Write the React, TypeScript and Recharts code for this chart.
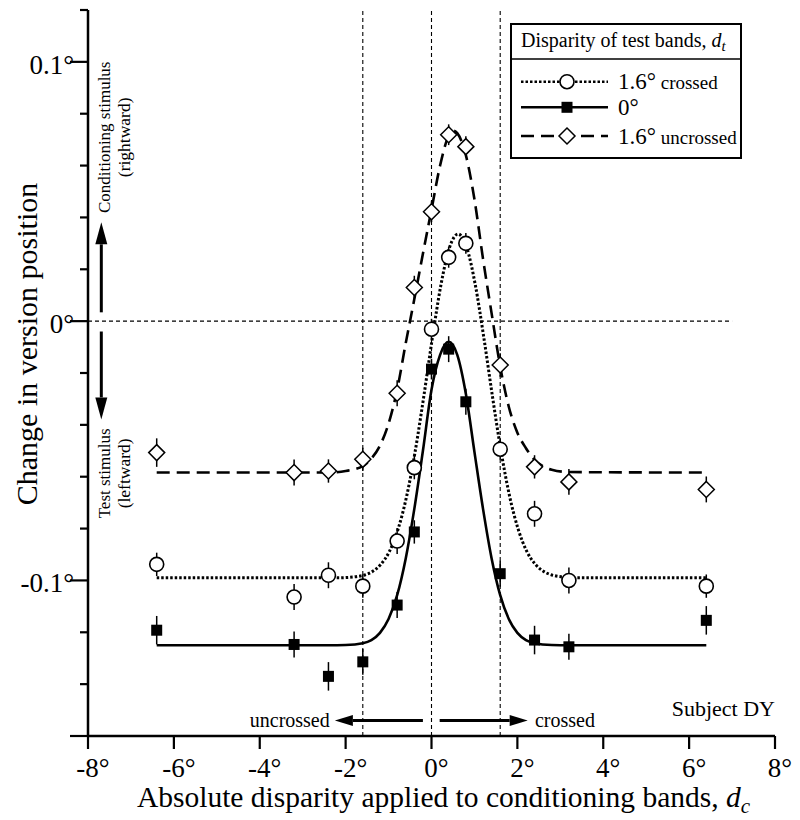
import React from 'react';
import {
  ComposedChart, Line, Scatter, XAxis, YAxis, ReferenceLine, ReferenceDot,
  ErrorBar, Legend, Label,
} from 'recharts';

const FONT = '"Liberation Serif", "Times New Roman", serif';

// ---------- data ----------
const xTicks = [-8, -6, -4, -2, 0, 2, 4, 6, 8];
const yTicks = [-0.16, -0.14, -0.12, -0.1, -0.08, -0.06, -0.04, -0.02, 0, 0.02, 0.04, 0.06, 0.08, 0.1, 0.12];
const yTickLabels = ['0.1°', '0°', '-0.1°'];
const yLabeledValues = [0.1, 0, -0.1];

const disparities = [-6.4, -3.2, -2.4, -1.6, -0.8, -0.4, 0, 0.4, 0.8, 1.6, 2.4, 3.2, 6.4];

const crossedVals = [-0.0938, -0.1064, -0.098, -0.1022, -0.0848, -0.0565, -0.0031, 0.0246, 0.03, -0.0494, -0.0743, -0.1, -0.1022];
const crossedErr = [0.0045, 0.005, 0.005, 0.0045, 0.005, 0.0045, 0.004, 0.004, 0.004, 0.004, 0.005, 0.005, 0.0045];

const zeroVals = [-0.1192, -0.1247, -0.137, -0.1314, -0.1095, -0.0813, -0.0185, -0.0108, -0.0311, -0.0974, -0.123, -0.1256, -0.1154];
const zeroErr = [0.0055, 0.005, 0.0055, 0.005, 0.005, 0.0045, 0.004, 0.005, 0.005, 0.005, 0.0055, 0.005, 0.0055];

const uncrossedVals = [-0.0507, -0.0584, -0.0578, -0.0533, -0.0278, 0.013, 0.0422, 0.0719, 0.0673, -0.0169, -0.0562, -0.062, -0.0649];
const uncrossedErr = [0.0055, 0.005, 0.0045, 0.0045, 0.005, 0.0045, 0.004, 0.004, 0.004, 0.0045, 0.0045, 0.005, 0.005];

// fitted curves
const crossedFitX = [-6.4, -2.2, -1.78, -1.38, -1.18, -0.98, -0.78, -0.58, -0.38, -0.18, 0.02, 0.22, 0.42, 0.62, 0.82, 1.02, 1.22, 1.42, 1.62, 1.82, 2.02, 2.22, 2.42, 2.62, 3.02, 3.4, 6.4];
const crossedFitY = [-0.099, -0.099, -0.0986, -0.0966, -0.0938, -0.0888, -0.0803, -0.0676, -0.0502, -0.0291, -0.0065, 0.014, 0.0284, 0.0336, 0.0284, 0.014, -0.0065, -0.0291, -0.0502, -0.0676, -0.0803, -0.0888, -0.0938, -0.0966, -0.0986, -0.099, -0.099];

const zeroFitX = [-6.4, -2.4, -2.0, -1.6, -1.4, -1.2, -1.0, -0.8, -0.6, -0.4, -0.2, 0, 0.2, 0.4, 0.6, 0.8, 1.0, 1.2, 1.4, 1.6, 1.8, 2.0, 2.2, 2.4, 2.8, 3.2, 6.4];
const zeroFitY = [-0.125, -0.125, -0.1249, -0.1242, -0.123, -0.1202, -0.1149, -0.1057, -0.0915, -0.0724, -0.05, -0.0265, -0.013, -0.008, -0.013, -0.028, -0.0504, -0.0724, -0.0915, -0.1057, -0.1149, -0.1202, -0.123, -0.1242, -0.1249, -0.125, -0.125];

const uncrossedFitX = [-6.4, -2.4, -2.0, -1.6, -1.4, -1.2, -1.0, -0.8, -0.6, -0.4, -0.2, 0, 0.2, 0.4, 0.5, 0.6, 0.8, 1.0, 1.2, 1.4, 1.6, 1.8, 2.0, 2.2, 2.4, 2.6, 2.8, 3.2, 6.4];
const uncrossedFitY = [-0.0584, -0.0584, -0.0578, -0.0559, -0.053, -0.048, -0.0395, -0.0265, -0.0085, 0.0085, 0.026, 0.043, 0.06, 0.0715, 0.0735, 0.0725, 0.064, 0.047, 0.024, 0.003, -0.0175, -0.033, -0.043, -0.049, -0.0535, -0.056, -0.0573, -0.0582, -0.0584];

const guideXs = [-1.6, 0, 1.6];

const toPoints = (xs: number[], ys: number[], es?: number[]) =>
  xs.map((x, i) => (es ? { x, y: ys[i], err: es[i] } : { x, y: ys[i] }));

const crossedPts = toPoints(disparities, crossedVals, crossedErr);
const zeroPts = toPoints(disparities, zeroVals, zeroErr);
const uncrossedPts = toPoints(disparities, uncrossedVals, uncrossedErr);
const crossedFit = toPoints(crossedFitX, crossedFitY);
const zeroFit = toPoints(zeroFitX, zeroFitY);
const uncrossedFit = toPoints(uncrossedFitX, uncrossedFitY);

// ---------- marks ----------
const CircleMark = (p: any) => (
  <circle cx={p.cx} cy={p.cy} r={7} fill="#fff" stroke="#000" strokeWidth={1.6} />
);
const SquareMark = (p: any) => (
  <rect x={p.cx - 5.5} y={p.cy - 5.5} width={11} height={11} fill="#000" />
);
const DiamondMark = (p: any) => (
  <polygon
    points={`${p.cx},${p.cy - 8} ${p.cx + 8},${p.cy} ${p.cx},${p.cy + 8} ${p.cx - 8},${p.cy}`}
    fill="#fff" stroke="#000" strokeWidth={1.5}
  />
);

const DOTTED = '2.5 2';
const DASHED = '13 7';

const legendItems = [
  { num: '1.6°', word: 'crossed', dash: DOTTED, width: 2.6, mark: 'circle' },
  { num: '0°', word: '', dash: undefined, width: 2.6, mark: 'square' },
  { num: '1.6°', word: 'uncrossed', dash: DASHED, width: 2.4, mark: 'diamond' },
];
const legendRowY = [58.7, 84.3, 113];

const LegendBox = () => (
  <svg width={232} height={136} style={{ display: 'block' }}>
    <rect x={1} y={1} width={230} height={134} fill="#fff" stroke="#000" strokeWidth={2} />
    <text x={11} y={24} fontSize={20} fontFamily={FONT}>
      Disparity of test bands, <tspan fontStyle="italic">d</tspan>
      <tspan fontStyle="italic" fontSize={15} dy={4}>t</tspan>
    </text>
    <line x1={1} x2={231} y1={36} y2={36} stroke="#000" strokeWidth={1.6} />
    {legendItems.map((it, i) => {
      const cy = legendRowY[i];
      const cx = 57;
      return (
        <g key={i}>
          <line x1={11} x2={98} y1={cy} y2={cy} stroke="#000" strokeWidth={it.width} strokeDasharray={it.dash} />
          {it.mark === 'circle' && CircleMark({ cx, cy })}
          {it.mark === 'square' && SquareMark({ cx, cy })}
          {it.mark === 'diamond' && DiamondMark({ cx, cy })}
          <text x={108} y={cy + 7.5} fontFamily={FONT}>
            <tspan fontSize={23}>{it.num}</tspan>
            {it.word ? <tspan fontSize={19}>{' ' + it.word}</tspan> : null}
          </text>
        </g>
      );
    })}
  </svg>
);

// ---------- axes ----------
const YTick = (props: any) => {
  const { x, y, payload } = props;
  const v = Math.round(payload.value * 100) / 100;
  const idx = yLabeledValues.indexOf(v);
  const major = idx >= 0 || v === -0.16;
  return (
    <g>
      <line x1={x - (major ? 18 : 8)} x2={x} y1={y} y2={y} stroke="#000" strokeWidth={2.2} />
      {idx >= 0 && (
        <text x={x - 14} y={y + 12} textAnchor="end" fontSize={27} fontFamily={FONT} fill="#000">
          {yTickLabels[idx]}
        </text>
      )}
    </g>
  );
};

const XTick = (props: any) => {
  const { x, y, payload } = props;
  return (
    <text x={x + 5} y={y + 28} textAnchor="middle" fontSize={27} fontFamily={FONT} fill="#000">
      {`${payload.value}°`}
    </text>
  );
};

const XTitle = (props: any) => {
  const vb = props.viewBox;
  return (
    <text x={vb.x + vb.width / 2 + 12} y={vb.y + 71} textAnchor="middle" fontSize={29.5} fontFamily={FONT} fill="#000">
      Absolute disparity applied to conditioning bands, <tspan fontStyle="italic">d</tspan>
      <tspan fontStyle="italic" fontSize={21} dy={6}>c</tspan>
    </text>
  );
};

const YTitle = (props: any) => {
  const vb = props.viewBox;
  const cx = 37;
  const cy = vb.y + vb.height / 2 - 29;
  return (
    <text x={cx} y={cy} transform={`rotate(-90 ${cx} ${cy})`} textAnchor="middle" fontSize={30} fontFamily={FONT} fill="#000">
      Change in version position
    </text>
  );
};

// ---------- annotations ----------
const makeArrow = (headLen: number, headW: number) => (p: any) => {
  const { x1, y1, x2, y2 } = p;
  const dx = x2 - x1, dy = y2 - y1;
  const len = Math.hypot(dx, dy) || 1;
  const ux = dx / len, uy = dy / len;
  const bx = x2 - ux * headLen, by = y2 - uy * headLen;
  return (
    <g>
      <line x1={x1} y1={y1} x2={bx} y2={by} stroke="#000" strokeWidth={3} />
      <polygon points={`${x2},${y2} ${bx - uy * headW},${by + ux * headW} ${bx + uy * headW},${by - ux * headW}`} fill="#000" />
    </g>
  );
};
const vArrow = makeArrow(22, 6);
const hArrow = makeArrow(18, 5.5);

const rotLabel = (l1: string, l2: string) => (p: any) => (
  <g transform={`rotate(-90 ${p.cx} ${p.cy})`} fontFamily={FONT} fill="#000">
    <text x={p.cx} y={p.cy - 5} textAnchor="middle" fontSize={17}>{l1}</text>
    <text x={p.cx} y={p.cy + 15} textAnchor="middle" fontSize={17.5}>{l2}</text>
  </g>
);
const plainLabel = (s: string, anchor: string, size: number) => (p: any) => (
  <text x={p.cx} y={p.cy} textAnchor={anchor} fontSize={size} fontFamily={FONT} fill="#000">{s}</text>
);

export default function App() {
  return (
    <div style={{ position: 'absolute', left: 0, top: 0, width: 800, height: 820, background: '#fff' }}>
      <ComposedChart width={800} height={820} margin={{ top: 10, right: 25, bottom: 0, left: 0 }}>
        <XAxis
          type="number" dataKey="x" domain={[-8, 8]} ticks={xTicks} interval={0}
          allowDataOverflow height={84} tickSize={13} tickMargin={0}
          axisLine={{ stroke: '#000', strokeWidth: 2.5 }}
          tickLine={{ stroke: '#000', strokeWidth: 2.2 }}
          tick={<XTick />}
        >
          <Label content={<XTitle />} />
        </XAxis>
        <YAxis
          type="number" dataKey="y" domain={[-0.16, 0.12]} ticks={yTicks} interval={0}
          allowDataOverflow width={88} tickSize={0} tickMargin={0} tickLine={false}
          axisLine={{ stroke: '#000', strokeWidth: 2.5 }}
          tick={<YTick />}
        >
          <Label content={<YTitle />} />
        </YAxis>

        {guideXs.map((gx) => (
          <ReferenceLine key={gx} x={gx} stroke="#000" strokeWidth={1.1} strokeDasharray="4 3" />
        ))}
        <ReferenceLine segment={[{ x: -8, y: 0 }, { x: 7, y: 0 }]} stroke="#000" strokeWidth={1.1} strokeDasharray="4 3" />

        <Line data={uncrossedFit} dataKey="y" type="monotone" stroke="#000" strokeWidth={2.6} strokeDasharray={DASHED} dot={false} activeDot={false} isAnimationActive={false} />
        <Line data={crossedFit} dataKey="y" type="monotone" stroke="#000" strokeWidth={3} strokeDasharray={DOTTED} dot={false} activeDot={false} isAnimationActive={false} />
        <Line data={zeroFit} dataKey="y" type="monotone" stroke="#000" strokeWidth={2.6} dot={false} activeDot={false} isAnimationActive={false} />

        <Scatter data={uncrossedPts} dataKey="y" shape={DiamondMark} isAnimationActive={false}>
          <ErrorBar dataKey="err" direction="y" width={0} stroke="#000" strokeWidth={1.5} />
        </Scatter>
        <Scatter data={crossedPts} dataKey="y" shape={CircleMark} isAnimationActive={false}>
          <ErrorBar dataKey="err" direction="y" width={0} stroke="#000" strokeWidth={1.5} />
        </Scatter>
        <Scatter data={zeroPts} dataKey="y" shape={SquareMark} isAnimationActive={false}>
          <ErrorBar dataKey="err" direction="y" width={0} stroke="#000" strokeWidth={1.5} />
        </Scatter>

        <ReferenceLine segment={[{ x: -7.69, y: 0.0034 }, { x: -7.69, y: 0.0381 }]} ifOverflow="visible" shape={vArrow} />
        <ReferenceLine segment={[{ x: -7.69, y: -0.004 }, { x: -7.69, y: -0.0379 }]} ifOverflow="visible" shape={vArrow} />
        <ReferenceLine segment={[{ x: -0.2, y: -0.154 }, { x: -2.25, y: -0.154 }]} ifOverflow="visible" shape={hArrow} />
        <ReferenceLine segment={[{ x: 0.19, y: -0.154 }, { x: 2.24, y: -0.154 }]} ifOverflow="visible" shape={hArrow} />

        <ReferenceDot x={-7.38} y={0.0709} r={0} ifOverflow="visible" shape={rotLabel('Conditioning stimulus', '(rightward)')} />
        <ReferenceDot x={-7.38} y={-0.0587} r={0} ifOverflow="visible" shape={rotLabel('Test stimulus', '(leftward)')} />
        <ReferenceDot x={-2.37} y={-0.1564} r={0} ifOverflow="visible" shape={plainLabel('uncrossed', 'end', 20)} />
        <ReferenceDot x={2.41} y={-0.1564} r={0} ifOverflow="visible" shape={plainLabel('crossed', 'start', 20)} />
        <ReferenceDot x={8} y={-0.1522} r={0} ifOverflow="visible" shape={plainLabel('Subject DY', 'end', 22)} />

        <Legend
          layout="horizontal" verticalAlign="middle" align="center"
          wrapperStyle={{ left: 510, top: 23, width: 232, height: 136 }}
          content={<LegendBox />}
        />
      </ComposedChart>
    </div>
  );
}
